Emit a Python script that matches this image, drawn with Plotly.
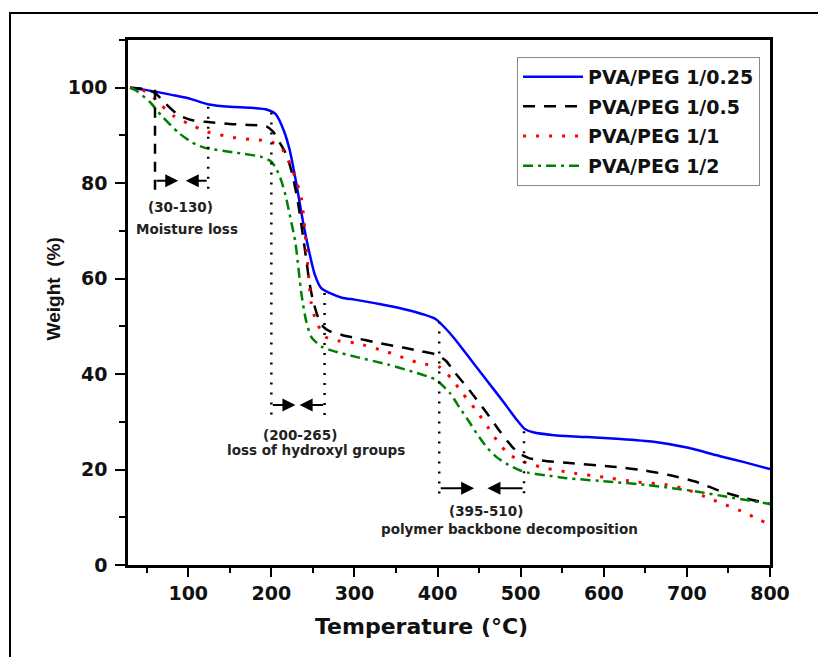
import plotly.graph_objects as go

# ---------------- data ----------------
series_names = ["PVA/PEG 1/0.25", "PVA/PEG 1/0.5", "PVA/PEG 1/1", "PVA/PEG 1/2"]

t_025 = [30, 50, 80, 100, 125, 150, 175, 195, 205, 215, 222, 230, 238, 245, 252, 260, 270, 285,
         300, 330, 360, 385, 398, 410, 420, 440, 460, 480, 495, 505, 515, 540, 580, 620, 660,
         700, 740, 770, 800]
w_025 = [100, 99.5, 98.5, 97.8, 96.5, 96.0, 95.8, 95.4, 94.5, 91, 87, 80, 72, 66, 61, 58, 57, 56,
         55.6, 54.7, 53.6, 52.4, 51.5, 49.5, 47.5, 43, 38.5, 34, 30.5, 28.5, 27.8, 27.2, 26.8, 26.4,
         25.8, 24.6, 22.8, 21.5, 20.1]

t_05 = [30, 45, 60, 72, 88, 105, 124, 150, 176, 194, 202, 210, 218, 225, 232, 238, 242, 246, 250,
        256, 262, 270, 285, 300, 330, 360, 380, 400, 410, 420, 438, 459, 475, 490, 500, 510, 530,
        555, 611, 650, 680, 710, 740, 770, 800]
w_05 = [100, 99.8, 98.9, 96.8, 94.3, 93.2, 92.8, 92.4, 92.2, 91.9, 90.8, 88.5, 86, 82, 76, 69, 64,
        59, 55.5, 52, 50, 49, 48.2, 47.6, 46.5, 45.5, 44.8, 44, 42.8, 40.5, 36.7, 31.9, 28, 24.7,
        23.2, 22.4, 21.8, 21.4, 20.6, 19.8, 18.8, 17.5, 15.5, 14, 12.8]

t_1 = [30, 45, 55, 67, 84, 100, 122, 157, 181, 199, 212, 220, 228, 236, 242, 248, 254, 265, 280,
       302, 340, 378, 402, 416, 430, 446, 460, 471, 486, 500, 507, 530, 562, 600, 640, 676, 700,
       732, 768, 788, 800]
w_1 = [100, 99.5, 98.5, 96.4, 93.9, 92.5, 90.8, 89.5, 89.1, 88.7, 87.4, 85, 81.5, 77, 66.7, 54.9,
       51, 47.8, 47, 46.5, 44.6, 42.3, 41.5, 39.2, 36, 32.5, 29, 26.2, 23.1, 22, 21.4, 20.3, 19.3,
       18.4, 17.4, 16.8, 15.8, 13.6, 11.1, 9.4, 8.5]

t_2 = [30, 39, 55, 67, 88, 105, 120, 157, 188, 200, 206, 212, 217, 222, 229, 236, 242, 248, 255,
       261, 275, 302, 340, 370, 398, 415, 426, 438, 450, 460, 471, 485, 498, 510, 530, 555, 611,
       650, 683, 715, 748, 775, 800]
w_2 = [100, 99.2, 96.8, 94.3, 90.6, 88.5, 87.4, 86.4, 85.5, 84.5, 83, 80.5, 77.5, 73.5, 67.5, 57,
       51, 47.8, 46.5, 45.7, 44.8, 43.6, 42, 40.5, 38.8, 36, 33.1, 30, 26.8, 24.5, 22.6, 21, 19.9,
       19.3, 18.8, 18.2, 17.4, 16.8, 16.1, 15.3, 14.3, 13.5, 12.8]

# guide regions (temperature limits of marked stages)
region_left = [60, 200, 402]
region_right = [124, 264, 504]
region_left_top = [99.6, 94.8, 51]
region_right_top = [96, 57, 28]
region_bottom = [78, 31, 14.3]
arrow_y = [80.5, 33.5, 16.1]
arrow_tip_left = [88, 229, 444]
arrow_tip_right = [97, 234, 460]
range_labels = ["(30-130)", "(200-265)", "(395-510)"]
range_label_x = [91, 234, 458]
range_label_y = [75, 27.3, 11.3]
stage_labels = ["Moisture loss", "loss of hydroxyl groups", "polymer backbone decomposition"]
stage_label_x = [99, 254, 486]
stage_label_y = [70.3, 24.0, 7.5]

x_ticks = [100, 200, 300, 400, 500, 600, 700, 800]
y_ticks = [0, 20, 40, 60, 80, 100]
x_title = "Temperature (°C)"
y_title = "Weight\u00a0\u00a0(%)"

# ---------------- figure ----------------
BIG = "DejaVu Sans"
ARIAL = "Liberation Sans, Arial"

fig = go.Figure()
styles = [
    dict(color="#0000FF", dash="solid", width=2.5),
    dict(color="#000000", dash="12px,9px", width=2.5),
    dict(color="#FF0000", dash="3px,10px", width=3),
    dict(color="#008000", dash="10px,5px,3px,5px", width=2.5),
]
for i, (t, w) in enumerate([(t_025, w_025), (t_05, w_05), (t_1, w_1), (t_2, w_2)]):
    fig.add_trace(go.Scatter(
        x=t, y=w, mode="lines", name=series_names[i],
        line=dict(shape="spline", smoothing=0.6, **styles[i]),
        legendgroup=f"g{i}",
    ))

# guide lines
for k in range(3):
    fig.add_shape(type="line", xref="x", yref="y",
                  x0=region_left[k], x1=region_left[k],
                  y0=region_left_top[k], y1=region_bottom[k],
                  line=dict(color="black", width=2.5,
                            dash="10px,8px" if k == 0 else "2px,8px"))
    fig.add_shape(type="line", xref="x", yref="y",
                  x0=region_right[k], x1=region_right[k],
                  y0=region_right_top[k], y1=region_bottom[k],
                  line=dict(color="black", width=2.5, dash="2px,8px"))
    fig.add_annotation(x=arrow_tip_left[k], y=arrow_y[k], ax=region_left[k], ay=arrow_y[k],
                       xref="x", yref="y", axref="x", ayref="y", text="", showarrow=True,
                       arrowhead=2, arrowsize=1.3, arrowwidth=2, arrowcolor="black")
    fig.add_annotation(x=arrow_tip_right[k], y=arrow_y[k], ax=region_right[k], ay=arrow_y[k],
                       xref="x", yref="y", axref="x", ayref="y", text="", showarrow=True,
                       arrowhead=2, arrowsize=1.3, arrowwidth=2, arrowcolor="black")
    fig.add_annotation(x=range_label_x[k], y=range_label_y[k], xref="x", yref="y",
                       text=range_labels[k], showarrow=False,
                       font=dict(family=BIG, size=13.5, color="#222", weight="bold"))
    fig.add_annotation(x=stage_label_x[k], y=stage_label_y[k], xref="x", yref="y",
                       text=stage_labels[k], showarrow=False,
                       font=dict(family=BIG, size=13.5, color="#222", weight="bold"))

# axis titles
fig.add_annotation(x=0.4565, y=-0.118, xref="paper", yref="paper", text=x_title,
                   showarrow=False, xanchor="center", yanchor="middle",
                   font=dict(family=BIG, size=22, color="#111", weight="bold"))
fig.add_annotation(x=-0.116, y=0.526, xref="paper", yref="paper", text=y_title,
                   showarrow=False, xanchor="center", yanchor="middle", textangle=-90,
                   font=dict(family=ARIAL, size=19, color="#111", weight="bold"))

# outer frame
fig.add_shape(type="rect", xref="paper", yref="paper",
              x0=-0.1838, x1=1.3, y0=-0.4, y1=1.0514,
              line=dict(color="black", width=2), layer="below")

axis_common = dict(
    showline=True, linewidth=2.5, linecolor="black", mirror=True,
    ticks="outside", tickwidth=2, tickcolor="black",
    showgrid=False, zeroline=False,
    tickfont=dict(family=BIG, size=19, color="#111", weight="bold"),
)

fig.update_xaxes(range=[27.5, 800], tickvals=x_ticks, ticklen=9,
                 minor=dict(dtick=50, tick0=0, ticklen=5, tickwidth=2, ticks="outside",
                            tickcolor="black"),
                 **axis_common)
fig.update_yaxes(range=[0, 110], tickvals=y_ticks, ticklen=10,
                 minor=dict(dtick=10, tick0=0, ticklen=6, tickwidth=2, ticks="outside",
                            tickcolor="black"),
                 ticklabelstandoff=4,
                 **axis_common)

fig.update_layout(
    width=818, height=657,
    margin=dict(l=128, r=48, t=40, b=92, autoexpand=False),
    paper_bgcolor="white", plot_bgcolor="white",
    showlegend=True,
    legend=dict(x=0.606, y=0.968, xanchor="left", yanchor="top",
                bgcolor="white", bordercolor="#888", borderwidth=1,
                font=dict(family=BIG, size=19, color="#111", weight="bold"),
                itemwidth=60, tracegroupgap=2, traceorder="grouped"),
)

fig.write_html("out.html")
